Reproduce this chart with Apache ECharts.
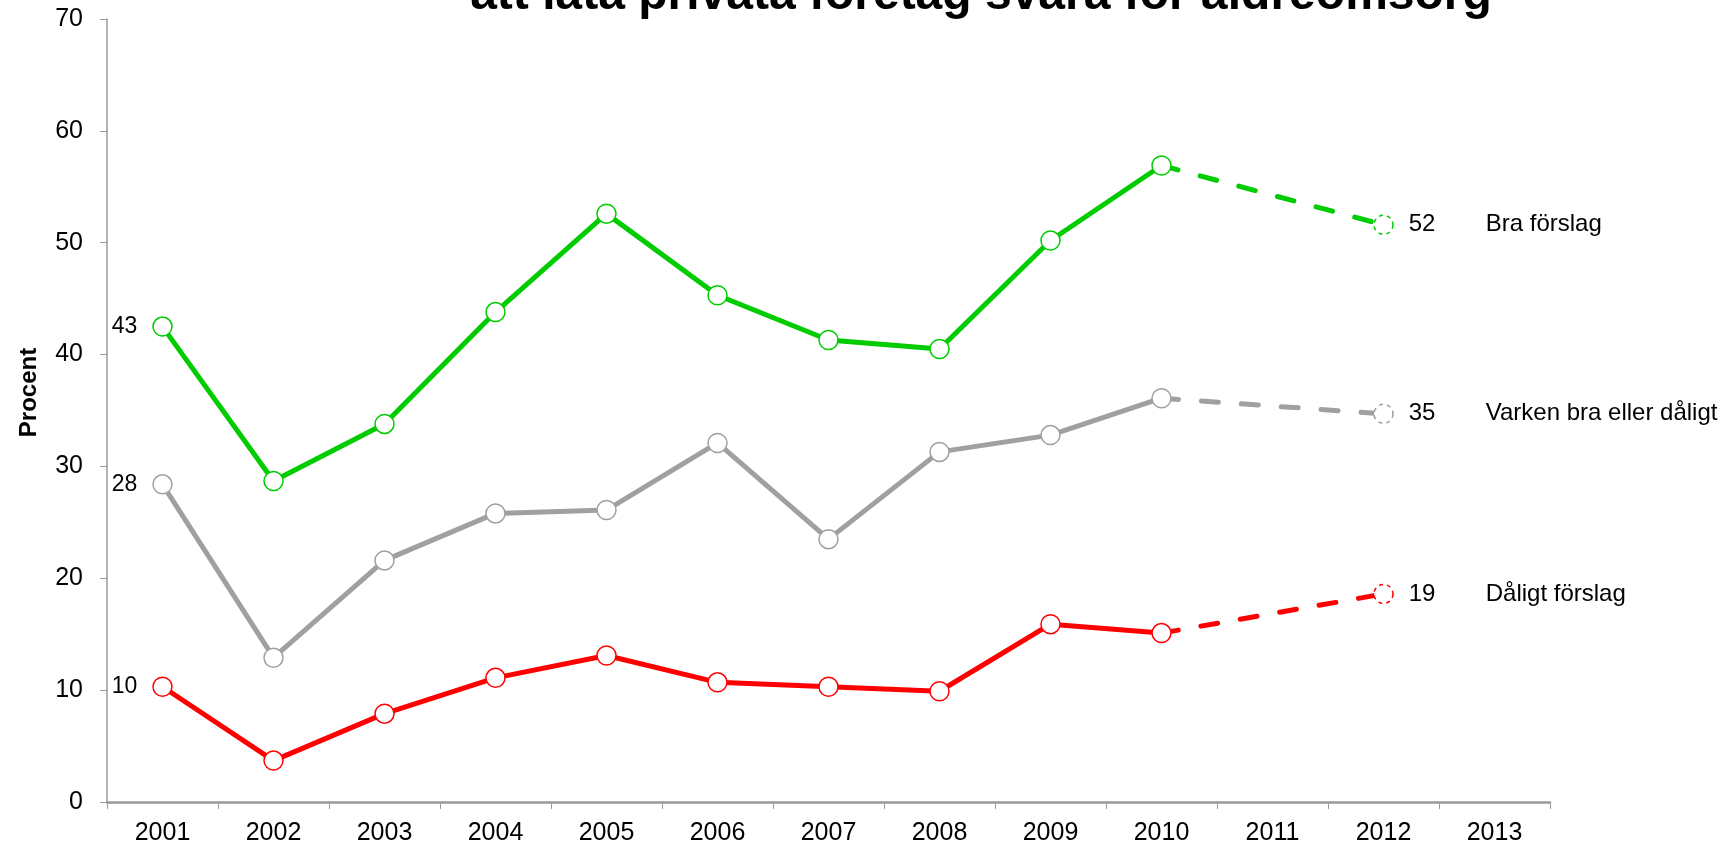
<!DOCTYPE html>
<html><head><meta charset="utf-8">
<script src="https://cdn.jsdelivr.net/npm/echarts@6/dist/echarts.min.js"></script>
<style>html,body{margin:0;padding:0;background:#fff}#c{width:1723px;height:847px}</style>
</head><body><div id="c"></div>
<script>
const years = ['2001','2002','2003','2004','2005','2006','2007','2008','2009','2010','2011','2012','2013'];
const seriesNames = ['Bra förslag','Varken bra eller dåligt','Dåligt förslag'];
const colors = ['#00CC00','#A0A0A0','#FF0000'];
// observed values 2001-2010
const bra = [42.5, 28.7, 33.8, 43.8, 52.6, 45.3, 41.3, 40.5, 50.2, 56.9];
const varken = [28.4, 12.9, 21.6, 25.8, 26.1, 32.1, 23.5, 31.3, 32.8, 36.1];
const daligt = [10.3, 3.7, 7.9, 11.1, 13.1, 10.7, 10.3, 9.9, 15.9, 15.1];
// 2012 values
const latest = [51.6, 34.7, 18.6];
const titleText = 'att låta privata företag svara för äldreomsorg';
const yTicks = [0, 70, 10];

const FONT = 'Liberation Sans, Arial, sans-serif';
const all = [bra, varken, daligt];
const series = [];
all.forEach((arr, k) => {
  series.push({
    type: 'line', name: seriesNames[k],
    data: arr.map((v, i) => i === 0 ? {value: v, label: {show: true}} : v),
    symbol: 'circle', symbolSize: 19, showAllSymbol: true,
    lineStyle: {color: colors[k], width: 5},
    itemStyle: {color: '#fff', borderColor: colors[k], borderWidth: 1.5},
    label: {show: false, position: 'left', distance: 15, color: '#000', fontSize: 23, fontFamily: FONT,
      formatter: p => Math.round(p.value)},
    z: 3
  });
  const d = years.map(() => null);
  d[9] = {value: arr[9], symbol: 'none'};
  d[11] = {value: latest[k], label: {show: true}};
  series.push({
    type: 'line', name: seriesNames[k] + ' prognos',
    data: d, connectNulls: true,
    symbol: 'circle', symbolSize: 19,
    lineStyle: {color: colors[k], width: 5, type: [17, 23], cap: 'round'},
    itemStyle: {color: '#fff', borderColor: colors[k], borderWidth: 1.5, borderType: [4, 4]},
    label: {show: false, position: 'right', distance: 15, color: '#000', fontSize: 24, fontFamily: FONT,
      formatter: p => '{v|' + Math.round(p.value) + '}{n|' + seriesNames[k] + '}',
      rich: {v: {width: 77, fontSize: 24, fontFamily: FONT, color: '#000'},
             n: {fontSize: 24, fontFamily: FONT, color: '#000'}}},
    z: 2
  });
});

const chart = echarts.init(document.getElementById('c'));
chart.setOption({
  animation: false,
  title: {text: titleText, left: 976, textAlign: 'center', top: -33,
    textStyle: {fontSize: 48, fontWeight: 'bold', fontFamily: FONT, color: '#000'}},
  grid: {left: 107, right: 173, top: 19, bottom: 45, containLabel: false},
  xAxis: {type: 'category', data: years, boundaryGap: true,
    axisLine: {lineStyle: {color: '#9a9a9a', width: 2.5}},
    axisTick: {show: true, length: 7, lineStyle: {color: '#9a9a9a', width: 1}},
    axisLabel: {color: '#000', fontSize: 25, fontFamily: FONT, margin: 19}},
  yAxis: {type: 'value', min: yTicks[0], max: yTicks[1], interval: yTicks[2],
    name: 'Procent', nameLocation: 'middle', nameGap: 66,
    nameTextStyle: {fontSize: 24, fontWeight: 'bold', fontFamily: FONT, color: '#000', padding: [0, 0, 0, 36]},
    splitLine: {show: false},
    axisLine: {show: true, lineStyle: {color: '#9a9a9a', width: 1.5}},
    axisTick: {show: true, length: 7, lineStyle: {color: '#9a9a9a'}},
    axisLabel: {color: '#000', fontSize: 25, fontFamily: FONT, margin: 24}},
  series: series
});
</script></body></html>
